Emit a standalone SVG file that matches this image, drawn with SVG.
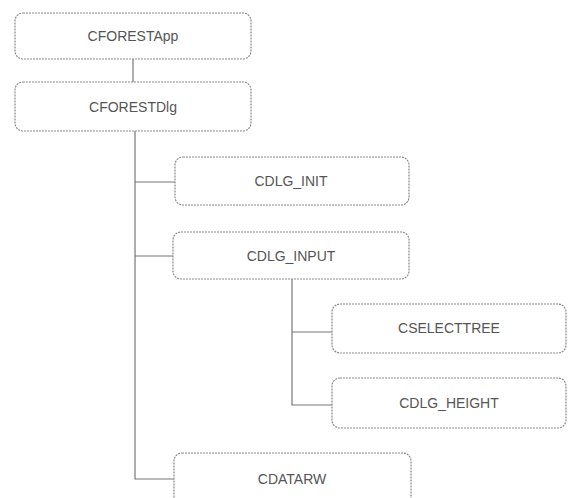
<svg xmlns="http://www.w3.org/2000/svg" width="570" height="498" viewBox="0 0 570 498">
<style>
.box{fill:#fff;stroke:#8a8a8a;stroke-width:1.2;stroke-dasharray:2 1}
.lbl{font-family:"Liberation Sans",Arial,sans-serif;font-size:14px;fill:#555;text-anchor:middle}
.conn{stroke:#777;stroke-width:1.2;fill:none}
</style>
<rect width="570" height="498" fill="#fff"/>
<g id="connectors">
<path class="conn" d="M133 59V82"/>
<path class="conn" d="M135 131V479H174"/>
<path class="conn" d="M135 182H175"/>
<path class="conn" d="M135 256H173"/>
<path class="conn" d="M292 279V405H332"/>
<path class="conn" d="M292 332H332"/>
</g>
<g id="cforestapp"><rect class="box" x="15" y="13" width="236" height="46" rx="8"/><text class="lbl" x="133" y="41">CFORESTApp</text></g>
<g id="cforestdlg"><rect class="box" x="15" y="82" width="236" height="49" rx="8"/><text class="lbl" x="133" y="112">CFORESTDlg</text></g>
<g id="cdlg_init"><rect class="box" x="175" y="157" width="234" height="48" rx="8"/><text class="lbl" x="291" y="186">CDLG_INIT</text></g>
<g id="cdlg_input"><rect class="box" x="173" y="232" width="236" height="47" rx="8"/><text class="lbl" x="291" y="261">CDLG_INPUT</text></g>
<g id="cselecttree"><rect class="box" x="332" y="304" width="234" height="49" rx="8"/><text class="lbl" x="449" y="333">CSELECTTREE</text></g>
<g id="cdlg_height"><rect class="box" x="332" y="378" width="234" height="50" rx="8"/><text class="lbl" x="449" y="408">CDLG_HEIGHT</text></g>
<g id="cdatarw"><rect class="box" x="174" y="453" width="237" height="60" rx="8"/><text class="lbl" x="292" y="484">CDATARW</text></g>
</svg>
